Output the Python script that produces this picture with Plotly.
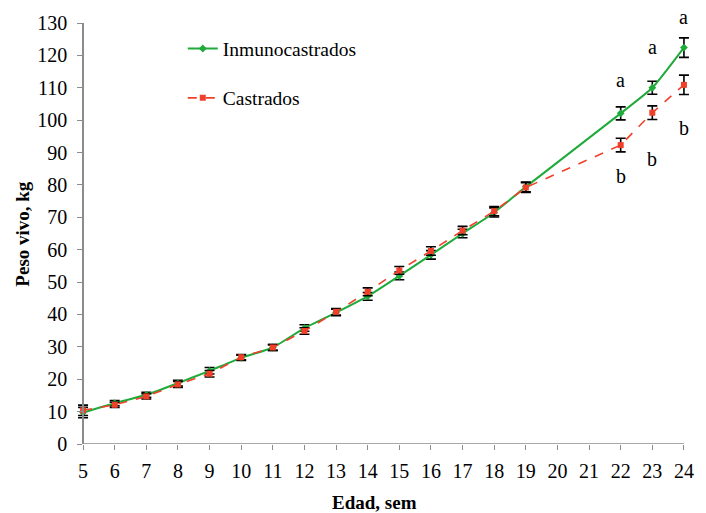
import plotly.graph_objects as go

weeks = [5, 6, 7, 8, 9, 10, 11, 12, 13, 14, 15, 16, 17, 18, 19, 22, 23, 24]
inmuno = [9.7, 12.6, 15.2, 18.8, 22.6, 26.6, 29.8, 35.8, 40.6, 45.6, 51.9, 58.4, 65.0, 71.5, 79.4, 102.1, 110.0, 122.4]
inmuno_err = [1.6, 0.8, 0.8, 0.9, 1.0, 0.8, 0.9, 1.0, 1.0, 1.2, 1.2, 1.3, 1.3, 1.4, 1.5, 2.0, 2.0, 3.0]
castr = [10.4, 12.1, 14.7, 18.4, 21.7, 26.8, 29.8, 34.9, 40.8, 47.0, 53.6, 59.6, 65.9, 71.9, 79.2, 92.3, 102.3, 110.9]
castr_err = [1.6, 0.8, 0.8, 0.9, 1.0, 0.8, 0.9, 1.0, 1.0, 1.2, 1.2, 1.3, 1.3, 1.4, 1.5, 2.1, 2.1, 3.0]

letter_weeks = [22, 23, 24]
letters_a = ["a", "a", "a"]
letters_a_y = [112.5, 122.5, 132.0]
letters_b = ["b", "b", "b"]
letters_b_y = [82.7, 88.1, 97.6]

x_ticks = list(range(5, 25))
y_ticks = list(range(0, 131, 10))
Y_MAX = 130

FONT = "Liberation Serif"
AX = "#8c8c8c"

# small padding so the error-bar caps at the first/last week are not clipped
PAD = 0.16
x_lo, x_hi = x_ticks[0] - PAD, x_ticks[-1] + PAD
span = x_hi - x_lo

fig = go.Figure()
fig.add_trace(go.Scatter(
    x=weeks, y=inmuno, name="Inmunocastrados", mode="lines+markers",
    line=dict(color="#1faa3a", width=2, shape="spline", smoothing=0.5),
    marker=dict(symbol="diamond", size=6, color="#1faa3a"),
    error_y=dict(type="data", array=inmuno_err, color="black", thickness=1.6, width=5),
    legendgroup="g1", cliponaxis=False,
))
fig.add_trace(go.Scatter(
    x=weeks, y=castr, name="Castrados", mode="lines+markers",
    line=dict(color="#f0402a", width=1.6, dash="dash"),
    marker=dict(symbol="square", size=6, color="#f0402a"),
    error_y=dict(type="data", array=castr_err, color="black", thickness=1.6, width=5),
    legendgroup="g2", cliponaxis=False,
))

# significance letters (paper y derived from data value so the top one is not hidden)
for xw, t, yv in zip(letter_weeks + letter_weeks, letters_a + letters_b, letters_a_y + letters_b_y):
    fig.add_annotation(x=xw, xref="x", y=yv / Y_MAX, yref="paper", text=t, showarrow=False,
                       xanchor="center", yanchor="middle",
                       font=dict(family=FONT, size=20, color="black"))

# x axis baseline from first to last week
fig.add_shape(type="line", xref="x", yref="y", x0=x_ticks[0], x1=x_ticks[-1], y0=0, y1=0,
              line=dict(color=AX, width=1.5), layer="below")

fig.add_annotation(xref="paper", yref="paper", x=-0.0914, y=0.5, xanchor="center", yanchor="middle",
                   text="<b>Peso vivo, kg</b>", textangle=-90, showarrow=False,
                   font=dict(family=FONT, size=19, color="black"))
fig.add_annotation(xref="paper", yref="paper", x=0.485, y=-0.1385, xanchor="center", yanchor="middle",
                   text="<b>Edad, sem</b>", showarrow=False,
                   font=dict(family=FONT, size=19, color="black"))

fig.update_layout(
    width=706, height=513,
    margin=dict(l=77.6, r=15.9, t=18, b=69),
    paper_bgcolor="white", plot_bgcolor="white",
    font=dict(family=FONT, size=19, color="black"),
    showlegend=True,
    legend=dict(x=0.1715, y=0.985, xanchor="left", yanchor="top",
                traceorder="grouped", tracegroupgap=21,
                bgcolor="rgba(0,0,0,0)", font=dict(family=FONT, size=19.5)),
    xaxis=dict(range=[x_lo, x_hi], tickvals=x_ticks, showgrid=False, zeroline=False,
               showline=False, ticks="outside", ticklen=5,
               tickcolor=AX, tickfont=dict(family=FONT, size=20), ticklabelstandoff=4),
    yaxis=dict(range=[0, Y_MAX], tickvals=y_ticks, showgrid=False, zeroline=False,
               anchor="free", position=PAD / span,
               showline=True, linecolor=AX, linewidth=1.5, ticks="outside", ticklen=5,
               tickcolor=AX, tickfont=dict(family=FONT, size=20), ticklabelstandoff=6),
)

fig.write_html("out.html", config={"displayModeBar": False},
               post_script="document.body.style.margin='0';document.body.style.overflow='hidden';")
